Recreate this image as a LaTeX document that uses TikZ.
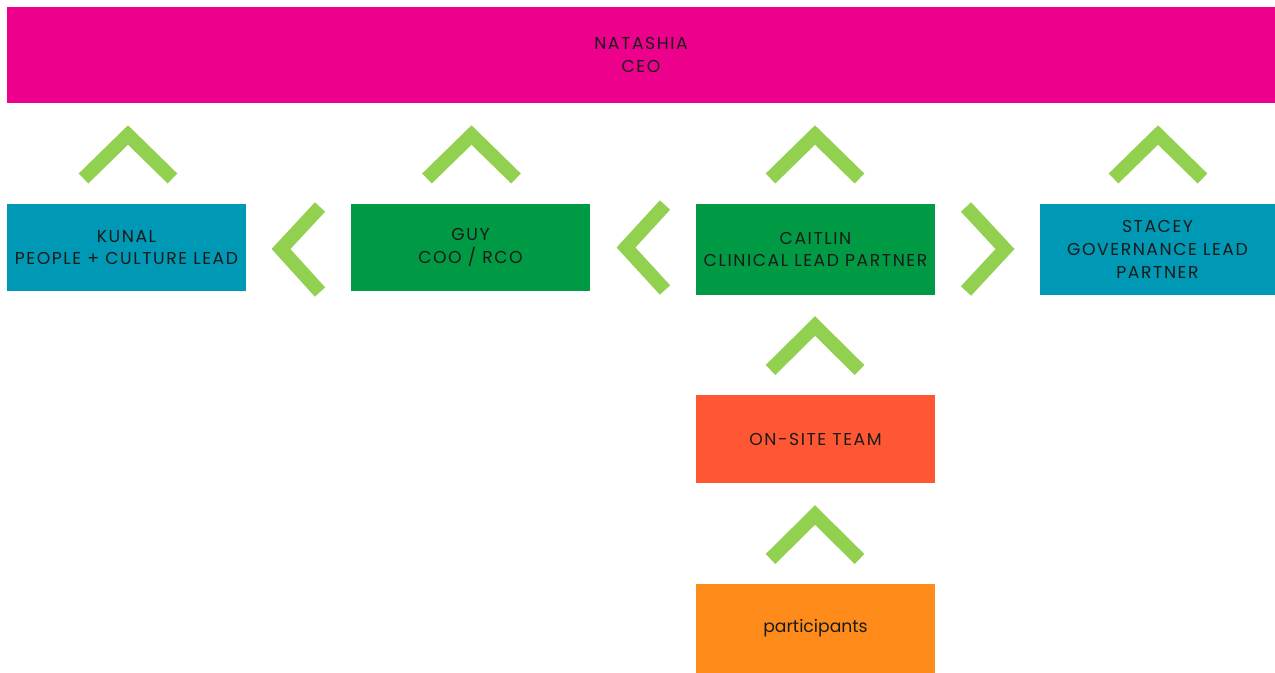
\documentclass[tikz,border=0pt]{standalone}
\usepackage{fontspec}
\setmainfont[LetterSpace=9]{Poppins}
\newfontfamily\plainfont{Poppins}
\definecolor{ceomagenta}{RGB}{236,0,140}
\definecolor{leadteal}{RGB}{0,153,181}
\definecolor{leadgreen}{RGB}{0,154,68}
\definecolor{teamred}{RGB}{255,87,51}
\definecolor{partorange}{RGB}{255,140,26}
\definecolor{chevgreen}{RGB}{146,208,80}
\definecolor{textdark}{RGB}{26,26,26}
\tikzset{
  box/.style={rectangle,inner sep=0pt,align=center,text=textdark,
    font=\fontsize{9.8}{13}\selectfont},
  chev/.style={draw=chevgreen,line width=7.9pt,line join=miter,line cap=butt},
}
\begin{document}
\begin{tikzpicture}[x=0.02cm,y=-0.02cm]
\useasboundingbox (0,0) rectangle (1275,673);

% boxes
\node[box,fill=ceomagenta,minimum width=25.36cm,minimum height=1.92cm] (ceo) at (641,55) {NATASHIA\\CEO};
\node[box,fill=leadteal,minimum width=4.78cm,minimum height=1.74cm] (kunal) at (126.5,247.5) {KUNAL\\PEOPLE + CULTURE LEAD};
\node[box,fill=leadgreen,minimum width=4.78cm,minimum height=1.74cm] (guy) at (470.5,247.5) {GUY\\COO / RCO};
\node[box,fill=leadgreen,minimum width=4.78cm,minimum height=1.82cm] (caitlin) at (815.5,249.5) {CAITLIN\\CLINICAL LEAD PARTNER};
\node[box,fill=leadteal,minimum width=4.70cm,minimum height=1.82cm] (stacey) at (1157.5,249.5) {STACEY\\GOVERNANCE LEAD\\PARTNER};
\node[box,fill=teamred,minimum width=4.78cm,minimum height=1.76cm] (onsite) at (815.5,439) {ON-SITE TEAM};
\node[box,fill=partorange,minimum width=4.78cm,minimum height=1.78cm,
  font=\plainfont\fontsize{9.8}{13}\selectfont] (part) at (815.5,628.5) {participants};

% chevrons, row under the CEO
\foreach \cx in {128,471.5,815,1158}
  \draw[chev] (\cx-44.5,178.5)--(\cx,135)--(\cx+44.5,178.5);

% chevrons between the leads
\draw[chev] (320,207)--(281,249)--(320,292);
\draw[chev] (665,205)--(626,247.5)--(665,290);
\draw[chev] (966,207)--(1005,249)--(966,291);

% chevrons under CAITLIN
\draw[chev] (770.5,370)--(815,326)--(859.5,370);
\draw[chev] (770.5,559)--(815,515)--(859.5,559);
\end{tikzpicture}
\end{document}
